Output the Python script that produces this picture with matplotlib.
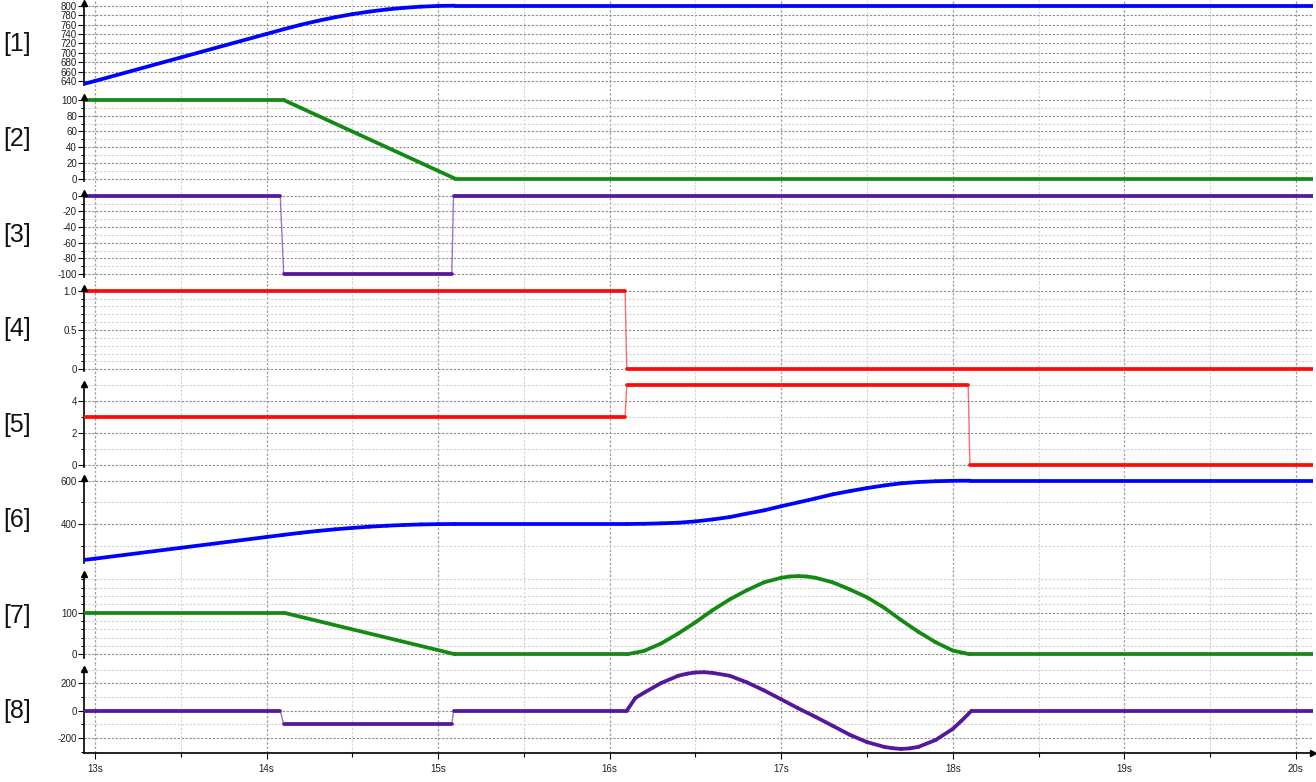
import numpy as np
import matplotlib
matplotlib.use("Agg")
import matplotlib.pyplot as plt
from matplotlib.collections import LineCollection
from matplotlib.ticker import FixedLocator, FuncFormatter

plt.rcParams['font.family'] = ['Liberation Sans', 'DejaVu Sans']
plt.rcParams['axes.unicode_minus'] = False

# ---- data (time in s) ----
t1 = [12.936, 13.0, 13.5, 14.0, 14.1, 14.2, 14.3, 14.4, 14.5, 14.6, 14.7, 14.8, 14.9, 15.0, 15.1, 20.1]
pos1 = [634, 640, 690, 740, 750, 759.5, 768, 775.5, 782, 787.5, 792, 795.5, 798, 799.5, 800, 800]

t2 = [12.936, 14.1, 15.1, 20.1]
vel2 = [100, 100, 0, 0]

t3 = [12.936, 14.08, 14.1, 15.08, 15.09, 20.1]
acc3 = [0, 0, -100, -100, 0, 0]

t4 = [12.936, 16.09, 16.1, 20.1]
sig4 = [1, 1, 0, 0]

t5 = [12.936, 16.09, 16.1, 18.09, 18.1, 20.1]
sig5 = [3, 3, 5, 5, 0, 0]

t6 = [12.936, 13.0, 13.5, 14.0, 14.1, 14.2, 14.3, 14.4, 14.5, 14.6, 14.7, 14.8, 14.9, 15.0, 15.1,
      16.1, 16.2, 16.3, 16.4, 16.5, 16.6, 16.7, 16.8, 16.9, 17.0, 17.1, 17.2, 17.3, 17.4, 17.5,
      17.6, 17.7, 17.8, 17.9, 18.0, 18.1, 20.1]
pos6 = [234, 240, 290, 340, 350, 359.5, 368, 375.5, 382, 387.5, 392, 395.5, 398, 399.5, 400,
        400, 401, 403, 406, 412, 421, 432, 448, 463, 482, 500, 518, 537, 552, 566,
        578, 588, 594, 597.5, 599.5, 600, 600]

t7 = [12.936, 14.1, 15.1, 16.1, 16.2, 16.3, 16.4, 16.5, 16.6, 16.7, 16.8, 16.9, 17.0, 17.05, 17.1,
      17.15, 17.2, 17.3, 17.4, 17.5, 17.6, 17.7, 17.8, 17.9, 18.0, 18.1, 20.1]
vel7 = [100, 100, 0, 0, 8, 26, 50, 77, 106, 132, 154, 173, 184, 187, 188,
        187, 184, 173, 156, 137, 112, 82, 54, 29, 9, 0, 0]

t8 = [12.936, 14.08, 14.1, 15.08, 15.09, 16.1, 16.15, 16.2, 16.3, 16.4, 16.45, 16.5, 16.55, 16.6,
      16.7, 16.8, 16.9, 17.0, 17.1, 17.2, 17.3, 17.4, 17.5, 17.6, 17.65, 17.7, 17.75, 17.8,
      17.9, 18.0, 18.05, 18.11, 20.1]
acc8 = [0, 0, -100, -100, 0, 0, 93, 131, 202, 255, 270, 279, 281, 276,
        255, 207, 148, 83, 17, -45, -110, -176, -229, -264, -274, -279, -275, -264,
        -214, -133, -75, 0, 0]

labels = ["[1]", "[2]", "[3]", "[4]", "[5]", "[6]", "[7]", "[8]"]
x_ticks = [13, 14, 15, 16, 17, 18, 19, 20]
x_tick_labels = ["13s", "14s", "15s", "16s", "17s", "18s", "19s", "20s"]

BLUE, GREEN, PURPLE, RED = "#0000ff", "#148a14", "#55189c", "#ff0a0a"

# (time, values, colour, pixel calibration (va, pa, vb, pb), spine top/bottom px,
#  major step, minor step, formatter)
panels = [
    (t1, pos1, BLUE, (800, 5.7, 640, 81.0), 3, 85, 20, None, "{:.0f}"),
    (t2, vel2, GREEN, (100, 100.0, 0, 178.7), 97, 181, 20, 10, "{:.0f}"),
    (t3, acc3, PURPLE, (0, 195.7, -100, 274.0), 193, 277, 20, 10, "{:.0f}"),
    (t4, sig4, RED, (1.0, 290.7, 0, 369.3), 288, 371, 0.5, 0.1, "{:.1f}"),
    (t5, sig5, RED, (4, 401.0, 0, 465.0), 384, 467, 2, 1, "{:.0f}"),
    (t6, pos6, BLUE, (600, 480.7, 400, 524.0), 478, 563, 200, 100, "{:.0f}"),
    (t7, vel7, GREEN, (100, 612.7, 0, 654.3), 574, 658, 100, 20, "{:.0f}"),
    (t8, acc8, PURPLE, (200, 683.3, 0, 710.7), 669, 753, 200, 100, "{:.0f}"),
]

W, H = 1316, 782
X0, X1 = 84, 1313
XMIN, XMAX = 12.936, 20.1

fig = plt.figure(figsize=(W / 100, H / 100), dpi=100)

n = len(panels)
for i, (t, y, col, cal, sp_top, sp_bot, major, minor, fmt) in enumerate(panels):
    va, pa, vb, pb = cal
    top_px = 0 if i == 0 else (panels[i - 1][5] + sp_top) / 2
    bot_px = sp_bot if i == n - 1 else (sp_bot + panels[i + 1][4]) / 2

    def px2v(p):
        return va + (p - pa) * (vb - va) / (pb - pa)

    ax = fig.add_axes([X0 / W, 1 - bot_px / H, (X1 - X0) / W, (bot_px - top_px) / H])
    ax.set_xlim(XMIN, XMAX)
    ylo, yhi = px2v(bot_px), px2v(top_px)
    ax.set_ylim(ylo, yhi)
    s_lo, s_hi = px2v(sp_bot), px2v(sp_top)

    # series: sampled segments thick, jump segments thin
    tt = np.asarray(t, float)
    yy = np.asarray(y, float)
    segs = np.stack([np.column_stack([tt[:-1], yy[:-1]]), np.column_stack([tt[1:], yy[1:]])], axis=1)
    jump = np.diff(tt) < 0.025
    lws = np.where(jump, 1.0, 2.7)
    alphas = np.where(jump, 0.6, 1.0)
    cols = [matplotlib.colors.to_rgba(col, a) for a in alphas]
    ax.add_collection(LineCollection(segs, linewidths=lws, colors=cols, capstyle='round',
                                     joinstyle='round', zorder=3))

    # y ticks within the spine range
    eps = 1e-9
    maj = np.arange(np.ceil(s_lo / major - eps) * major, s_hi + eps, major)
    ax.yaxis.set_major_locator(FixedLocator(maj))
    ax.yaxis.set_major_formatter(FuncFormatter(
        lambda v, p, f=fmt: "0" if abs(v) < 1e-9 else f.format(v)))
    if minor:
        mn = np.arange(np.ceil(s_lo / minor - eps) * minor, s_hi + eps, minor)
        mn = [m for m in mn if np.min(np.abs(maj - m)) > 1e-6]
        ax.yaxis.set_minor_locator(FixedLocator(mn))
        ax.grid(axis='y', which='minor', color='#d2d2d2', linestyle=(0, (2, 1.5)), lw=0.8)
    ax.grid(axis='y', which='major', color='#8c8c8c', linestyle=(0, (2, 1.5)), lw=0.8)

    # time grid
    ax.xaxis.set_major_locator(FixedLocator(x_ticks))
    ax.xaxis.set_minor_locator(FixedLocator([x + 0.5 for x in x_ticks[:-1]] + [12.5]))
    ax.grid(axis='x', which='major', color='#a0a0a0', linestyle=(0, (2, 1.5)), lw=0.9)
    ax.grid(axis='x', which='minor', color='#d2d2d2', linestyle=(0, (2, 1.5)), lw=0.8)
    ax.set_axisbelow(True)

    for s in ("top", "right"):
        ax.spines[s].set_visible(False)
    ax.spines["left"].set_bounds(s_lo, s_hi)
    ax.spines["left"].set_linewidth(1.2)
    ax.tick_params(axis='y', which='major', direction='out', length=4, width=0.8,
                   labelsize=7, labelcolor='#202020', pad=1)
    ax.tick_params(axis='y', which='minor', direction='out', length=2.5, width=0.8)
    ax.plot([XMIN], [s_hi], marker='^', color='k', ms=4, clip_on=False, zorder=5)

    if i == n - 1:
        ax.spines["bottom"].set_linewidth(1.2)
        ax.set_xticklabels(x_tick_labels)
        ax.tick_params(axis='x', which='major', direction='out', length=4, width=0.8,
                       labelsize=7, labelcolor='#202020', pad=4)
        ax.tick_params(axis='x', which='minor', direction='out', length=3, width=0.8)
        ax.plot([XMAX], [ylo], marker='>', color='k', ms=4, clip_on=False, zorder=5)
    else:
        ax.spines["bottom"].set_visible(False)
        ax.tick_params(axis='x', which='both', length=0, labelbottom=False)

    fig.text(17 / W, 1 - ((sp_top + sp_bot) / 2) / H, labels[i], ha='center', va='center',
             fontsize=18, color='#111111')

fig.savefig("out.png", dpi=100)
